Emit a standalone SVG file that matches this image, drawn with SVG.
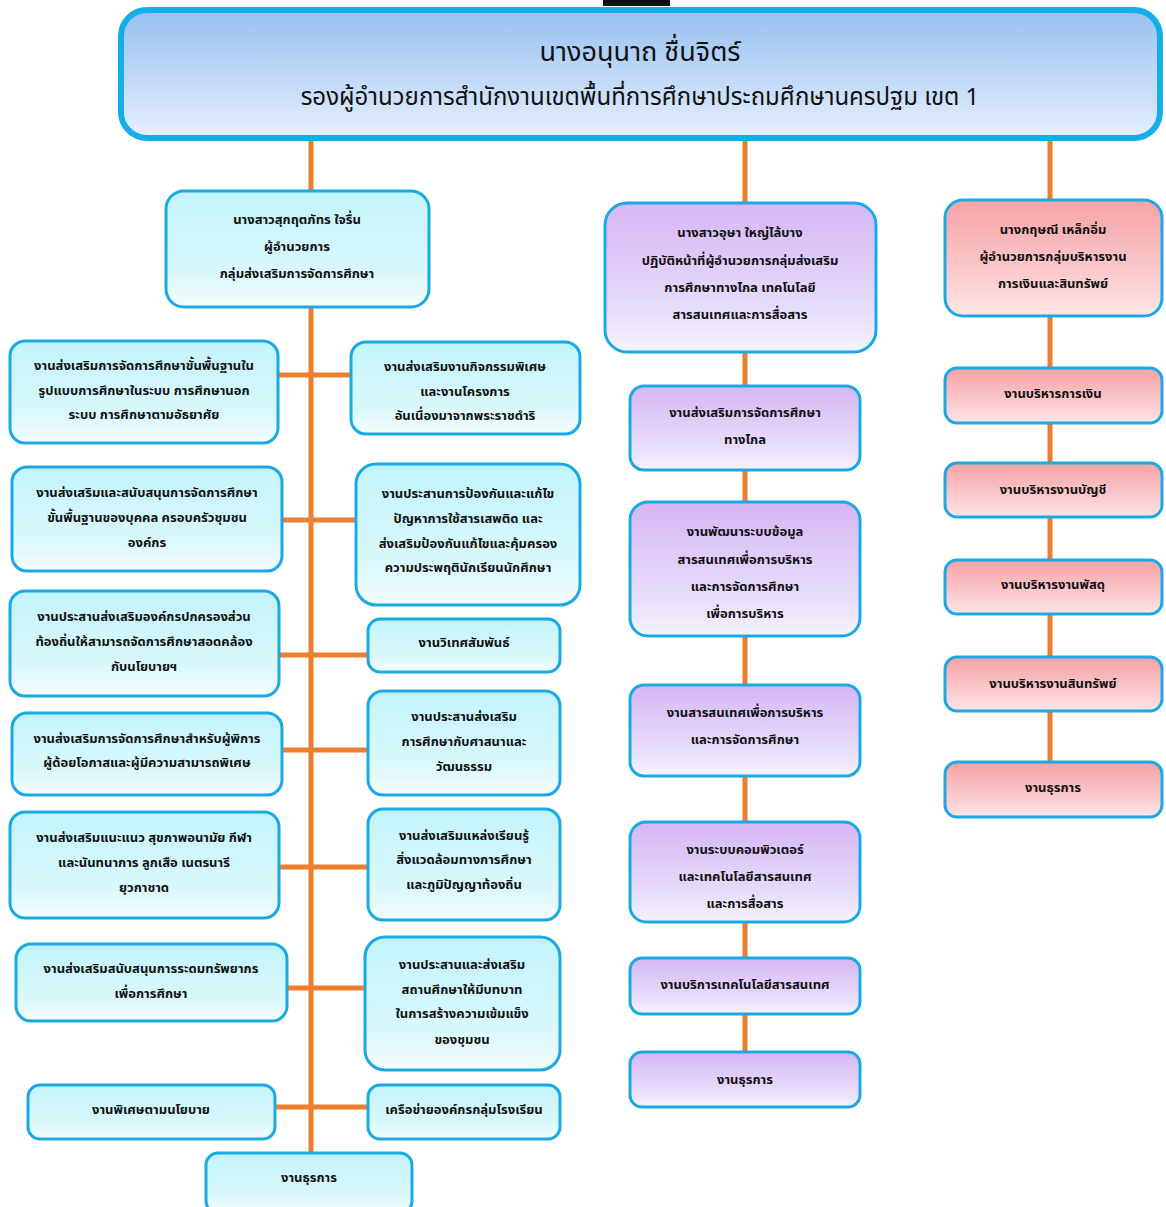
<svg xmlns="http://www.w3.org/2000/svg" width="1166" height="1207" viewBox="0 0 1166 1207">
<defs>
<linearGradient id="gTop" x1="0" y1="0" x2="0" y2="1"><stop offset="0" stop-color="#97c0f2"/><stop offset="1" stop-color="#e6effc"/></linearGradient>
<linearGradient id="gCyan" x1="0" y1="0" x2="0" y2="1"><stop offset="0" stop-color="#c2f3fa"/><stop offset="0.7" stop-color="#d9f8fc"/><stop offset="1" stop-color="#f4fdfe"/></linearGradient>
<linearGradient id="gPurple" x1="0" y1="0" x2="0" y2="1"><stop offset="0" stop-color="#d7b6f6"/><stop offset="0.7" stop-color="#e6dcfa"/><stop offset="1" stop-color="#f6f3fd"/></linearGradient>
<linearGradient id="gPink" x1="0" y1="0" x2="0" y2="1"><stop offset="0" stop-color="#f6a2a5"/><stop offset="0.7" stop-color="#fbcfd1"/><stop offset="1" stop-color="#fde6e7"/></linearGradient>
</defs>
<style>
.box{stroke:#1aa9e2;stroke-width:3}
.c{fill:url(#gCyan)}
.p{fill:url(#gPurple)}
.k{fill:url(#gPink)}
text{font-family:"Noto Sans Thai","Noto Sans","DejaVu Sans",sans-serif;font-size:13px;font-weight:bold;fill:#111;text-anchor:middle;dominant-baseline:central}
.big{font-size:27px;font-weight:normal}
.mid{font-size:24px;font-weight:normal}
.conn{stroke:#ed7d31;stroke-width:5;fill:none}
</style>
<rect x="603" y="0" width="67" height="6" fill="#0a0f1e"/>
<g id="connectors">
<line class="conn" x1="311" y1="140" x2="311" y2="1154"/>
<line class="conn" x1="745" y1="140" x2="745" y2="1053"/>
<line class="conn" x1="1050" y1="140" x2="1050" y2="763"/>
<line class="conn" x1="278" y1="375" x2="350" y2="375"/>
<line class="conn" x1="282" y1="520" x2="356" y2="520"/>
<line class="conn" x1="279" y1="655" x2="367" y2="655"/>
<line class="conn" x1="282" y1="750" x2="367" y2="750"/>
<line class="conn" x1="279" y1="867" x2="367" y2="867"/>
<line class="conn" x1="287" y1="988" x2="364" y2="988"/>
<line class="conn" x1="275" y1="1107" x2="367" y2="1107"/>
</g>
<g id="top">
<rect x="121" y="10" width="1039" height="128" rx="26" fill="url(#gTop)" stroke="#14aee8" stroke-width="6"/>
<text class="big" x="640" y="52">นางอนุนาถ ชื่นจิตร์</text>
<text class="mid" x="640" y="98">รองผู้อำนวยการสำนักงานเขตพื้นที่การศึกษาประถมศึกษานครปฐม เขต 1</text>
</g>
<g id="l-head"><rect class="box c" x="166" y="191" width="263" height="116" rx="18"/>
<text x="297" y="220">นางสาวสุกฤตภัทร ใจรื่น</text><text x="297" y="247">ผู้อำนวยการ</text><text x="297" y="274">กลุ่มส่งเสริมการจัดการศึกษา</text></g>
<g id="l1"><rect class="box c" x="10" y="341" width="268" height="102" rx="15"/>
<text x="144" y="366">งานส่งเสริมการจัดการศึกษาขั้นพื้นฐานใน</text><text x="144" y="391">รูปแบบการศึกษาในระบบ การศึกษานอก</text><text x="144" y="415">ระบบ การศึกษาตามอัธยาศัย</text></g>
<g id="r1"><rect class="box c" x="351" y="342" width="229" height="92" rx="15"/>
<text x="465" y="367">งานส่งเสริมงานกิจกรรมพิเศษ</text><text x="465" y="392">และงานโครงการ</text><text x="465" y="416">อันเนื่องมาจากพระราชดำริ</text></g>
<g id="l2"><rect class="box c" x="12" y="467" width="270" height="104" rx="15"/>
<text x="147" y="493">งานส่งเสริมและสนับสนุนการจัดการศึกษา</text><text x="147" y="518">ขั้นพื้นฐานของบุคคล ครอบครัวชุมชน</text><text x="147" y="543">องค์กร</text></g>
<g id="r2"><rect class="box c" x="356" y="464" width="224" height="141" rx="20"/>
<text x="468" y="494">งานประสานการป้องกันและแก้ไข</text><text x="468" y="519">ปัญหาการใช้สารเสพติด และ</text><text x="468" y="544">ส่งเสริมป้องกันแก้ไขและคุ้มครอง</text><text x="468" y="568">ความประพฤตินักเรียนนักศึกษา</text></g>
<g id="l3"><rect class="box c" x="10" y="591" width="269" height="105" rx="15"/>
<text x="144" y="617">งานประสานส่งเสริมองค์กรปกครองส่วน</text><text x="144" y="642">ท้องถิ่นให้สามารถจัดการศึกษาสอดคล้อง</text><text x="144" y="667">กับนโยบายฯ</text></g>
<g id="r3"><rect class="box c" x="368" y="619" width="192" height="53" rx="12"/>
<text x="464" y="643">งานวิเทศสัมพันธ์</text></g>
<g id="l4"><rect class="box c" x="12" y="713" width="270" height="82" rx="15"/>
<text x="147" y="739">งานส่งเสริมการจัดการศึกษาสำหรับผู้พิการ</text><text x="147" y="763">ผู้ด้อยโอกาสและผู้มีความสามารถพิเศษ</text></g>
<g id="r4"><rect class="box c" x="368" y="691" width="192" height="104" rx="15"/>
<text x="464" y="717">งานประสานส่งเสริม</text><text x="464" y="742">การศึกษากับศาสนาและ</text><text x="464" y="767">วัฒนธรรม</text></g>
<g id="l5"><rect class="box c" x="10" y="812" width="269" height="106" rx="15"/>
<text x="144" y="838">งานส่งเสริมแนะแนว สุขภาพอนามัย กีฬา</text><text x="144" y="863">และนันทนาการ ลูกเสือ เนตรนารี</text><text x="144" y="888">ยุวกาชาด</text></g>
<g id="r5"><rect class="box c" x="368" y="809" width="192" height="111" rx="15"/>
<text x="464" y="836">งานส่งเสริมแหล่งเรียนรู้</text><text x="464" y="860">สิ่งแวดล้อมทางการศึกษา</text><text x="464" y="885">และภูมิปัญญาท้องถิ่น</text></g>
<g id="l6"><rect class="box c" x="16" y="944" width="271" height="77" rx="15"/>
<text x="151" y="969">งานส่งเสริมสนับสนุนการระดมทรัพยากร</text><text x="151" y="994">เพื่อการศึกษา</text></g>
<g id="r6"><rect class="box c" x="365" y="937" width="195" height="133" rx="20"/>
<text x="462" y="965">งานประสานและส่งเสริม</text><text x="462" y="990">สถานศึกษาให้มีบทบาท</text><text x="462" y="1014">ในการสร้างความเข้มแข็ง</text><text x="462" y="1040">ของชุมชน</text></g>
<g id="l7"><rect class="box c" x="28" y="1085" width="247" height="54" rx="12"/>
<text x="151" y="1110">งานพิเศษตามนโยบาย</text></g>
<g id="r7"><rect class="box c" x="368" y="1085" width="192" height="54" rx="12"/>
<text x="464" y="1110">เครือข่ายองค์กรกลุ่มโรงเรียน</text></g>
<g id="l8"><rect class="box c" x="206" y="1153" width="206" height="60" rx="12"/>
<text x="309" y="1178">งานธุรการ</text></g>
<g id="m-head"><rect class="box p" x="605" y="203" width="271" height="149" rx="22"/>
<text x="740" y="233">นางสาวอุษา ใหญ่ไล้บาง</text><text x="740" y="261">ปฏิบัติหน้าที่ผู้อำนวยการกลุ่มส่งเสริม</text><text x="740" y="288">การศึกษาทางไกล เทคโนโลยี</text><text x="740" y="315">สารสนเทศและการสื่อสาร</text></g>
<g id="m1"><rect class="box p" x="630" y="386" width="230" height="84" rx="14"/>
<text x="745" y="413">งานส่งเสริมการจัดการศึกษา</text><text x="745" y="440">ทางไกล</text></g>
<g id="m2"><rect class="box p" x="630" y="502" width="230" height="134" rx="18"/>
<text x="745" y="532">งานพัฒนาระบบข้อมูล</text><text x="745" y="560">สารสนเทศเพื่อการบริหาร</text><text x="745" y="587">และการจัดการศึกษา</text><text x="745" y="614">เพื่อการบริหาร</text></g>
<g id="m3"><rect class="box p" x="630" y="685" width="230" height="91" rx="14"/>
<text x="745" y="713">งานสารสนเทศเพื่อการบริหาร</text><text x="745" y="740">และการจัดการศึกษา</text></g>
<g id="m4"><rect class="box p" x="630" y="822" width="230" height="100" rx="16"/>
<text x="745" y="850">งานระบบคอมพิวเตอร์</text><text x="745" y="877">และเทคโนโลยีสารสนเทศ</text><text x="745" y="904">และการสื่อสาร</text></g>
<g id="m5"><rect class="box p" x="630" y="958" width="230" height="56" rx="12"/>
<text x="745" y="985">งานบริการเทคโนโลยีสารสนเทศ</text></g>
<g id="m6"><rect class="box p" x="630" y="1052" width="230" height="55" rx="12"/>
<text x="745" y="1080">งานธุรการ</text></g>
<g id="k-head"><rect class="box k" x="945" y="200" width="217" height="116" rx="18"/>
<text x="1053" y="230">นางกฤษณี เหล็กอิ่ม</text><text x="1053" y="257">ผู้อำนวยการกลุ่มบริหารงาน</text><text x="1053" y="284">การเงินและสินทรัพย์</text></g>
<g id="k1"><rect class="box k" x="945" y="368" width="217" height="55" rx="12"/>
<text x="1053" y="394">งานบริหารการเงิน</text></g>
<g id="k2"><rect class="box k" x="945" y="463" width="217" height="54" rx="12"/>
<text x="1053" y="490">งานบริหารงานบัญชี</text></g>
<g id="k3"><rect class="box k" x="945" y="560" width="217" height="54" rx="12"/>
<text x="1053" y="585">งานบริหารงานพัสดุ</text></g>
<g id="k4"><rect class="box k" x="945" y="657" width="217" height="54" rx="12"/>
<text x="1053" y="684">งานบริหารงานสินทรัพย์</text></g>
<g id="k5"><rect class="box k" x="945" y="762" width="217" height="55" rx="12"/>
<text x="1053" y="788">งานธุรการ</text></g>
</svg>
